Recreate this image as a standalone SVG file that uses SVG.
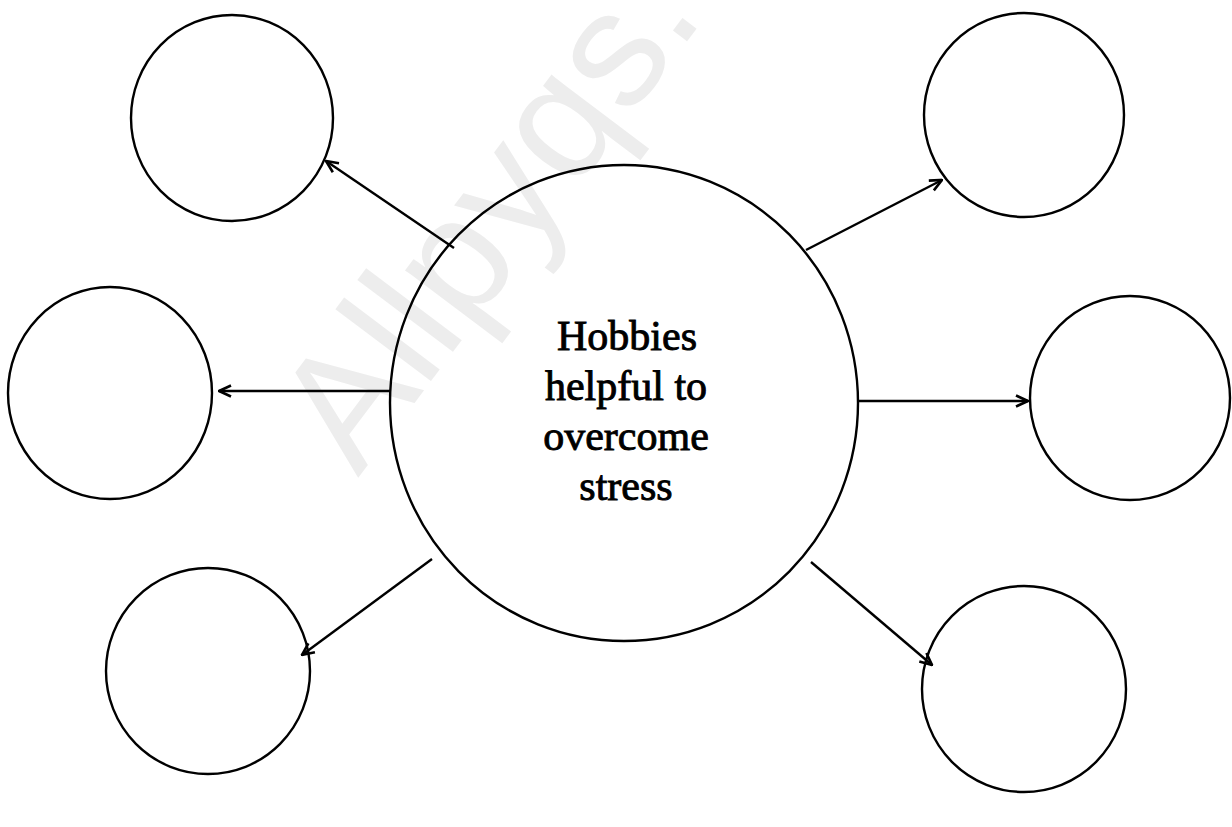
<svg xmlns="http://www.w3.org/2000/svg" width="1232" height="827" viewBox="0 0 1232 827">
<style>
.node{fill:none;stroke:#000;stroke-width:2.4}
.conn{stroke:#000;stroke-width:2.4;fill:none;marker-end:url(#ah)}
.lbl{font-family:"Liberation Serif","DejaVu Serif",serif;font-size:42px;fill:#000;stroke:#000;stroke-width:0.9;text-anchor:middle}
.wm{font-family:"Liberation Sans","DejaVu Sans",sans-serif;font-size:165px;fill:#ededed}
</style>
<defs>
<marker id="ah" viewBox="0 0 14 14" refX="13" refY="7" markerWidth="14" markerHeight="14" markerUnits="userSpaceOnUse" orient="auto">
<path d="M1,1.5 L13,7 L1,12.5" fill="none" stroke="#000" stroke-width="2.6" stroke-linejoin="miter"/>
</marker>
</defs>
<rect width="1232" height="827" fill="#fff"/>
<text class="wm" x="358" y="478" transform="rotate(-53 358 478)">Allpyqs.</text>
<g id="connectors">
<line class="conn" x1="454" y1="248" x2="326" y2="161"/>
<line class="conn" x1="806" y1="250" x2="942" y2="180"/>
<line class="conn" x1="391" y1="391" x2="219" y2="391"/>
<line class="conn" x1="858" y1="401" x2="1028" y2="401"/>
<line class="conn" x1="432" y1="559" x2="302" y2="655"/>
<line class="conn" x1="811" y1="562" x2="932" y2="665"/>
</g>
<g id="center">
<ellipse class="node" cx="624" cy="403" rx="234" ry="238"/>
<text class="lbl" x="627" y="350">Hobbies</text>
<text class="lbl" x="626" y="400">helpful to</text>
<text class="lbl" x="626" y="450">overcome</text>
<text class="lbl" x="626" y="500">stress</text>
</g>
<g id="node-top-left"><ellipse class="node" cx="232" cy="118" rx="101" ry="103"/></g>
<g id="node-top-right"><ellipse class="node" cx="1024" cy="115" rx="100" ry="102"/></g>
<g id="node-mid-left"><ellipse class="node" cx="110" cy="393" rx="102" ry="106"/></g>
<g id="node-mid-right"><ellipse class="node" cx="1130" cy="398" rx="100" ry="102"/></g>
<g id="node-bottom-left"><ellipse class="node" cx="208" cy="671" rx="102" ry="103"/></g>
<g id="node-bottom-right"><ellipse class="node" cx="1024" cy="689" rx="102" ry="103"/></g>
</svg>
